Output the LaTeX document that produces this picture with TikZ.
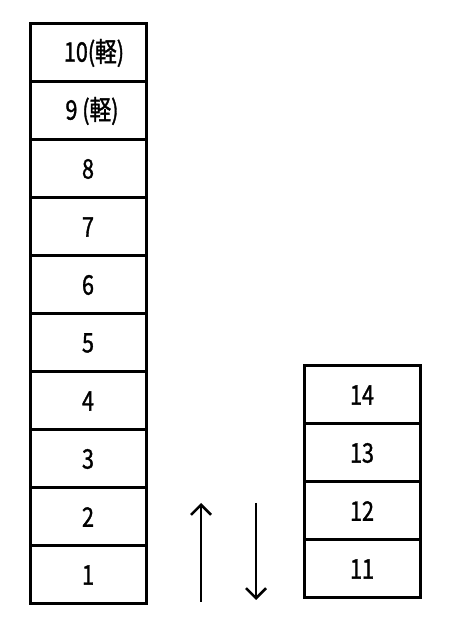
\documentclass[tikz,border=0pt]{standalone}
\usepackage{fontspec}
\newfontfamily\jpfont[FakeStretch=0.8,FakeBold=1.2]{Noto Sans CJK JP}
\usetikzlibrary{arrows.meta}
\tikzset{
  floorbox/.style={draw, rectangle, line width=3pt, minimum width=116pt, minimum height=58pt, inner sep=0pt, font=\jpfont\fontsize{27}{27}\selectfont},
  movearrow/.style={line width=2.5pt, -{Straight Barb[length=10pt,width=20pt,line width=2.5pt]}}
}
\begin{document}
\begin{tikzpicture}[x=1pt,y=1pt]
            \useasboundingbox (0,0) rectangle (473,631);
            % Left stack
            \node[floorbox] (f1) at (88,56) {1};
            \node[floorbox] (f2) at (88,114) {2};
            \node[floorbox] (f3) at (88,172) {3};
            \node[floorbox] (f4) at (88,230) {4};
            \node[floorbox] (f5) at (88,288) {5};
            \node[floorbox] (f6) at (88,346) {6};
            \node[floorbox] (f7) at (88,404) {7};
            \node[floorbox] (f8) at (88,462) {8};
            \node[floorbox] (f9) at (88,520) {\hspace{8pt}9 (軽)};
            \node[floorbox] (f10) at (88,578) {\hspace{12pt}10(軽)};
            
            % Right stack
            \node[floorbox] (f11) at (362,62) {11};
            \node[floorbox] (f12) at (362,120) {12};
            \node[floorbox] (f13) at (362,178) {13};
            \node[floorbox] (f14) at (362,236) {14};
            
            % Up and down
            \coordinate (upfrom) at (201,29);
            \coordinate (upto) at (201,128);
            \coordinate (downfrom) at (256,128);
            \coordinate (downto) at (256,31);
            \draw[movearrow] (upfrom) -- (upto);
            \draw[movearrow] (downfrom) -- (downto);
        \end{tikzpicture}
\end{document}
